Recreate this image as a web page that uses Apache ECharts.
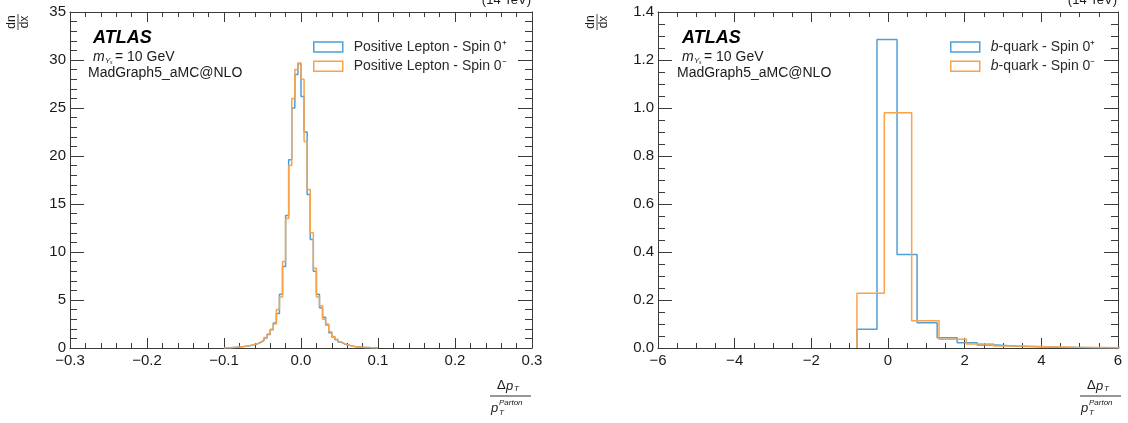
<!DOCTYPE html>
<html>
<head>
<meta charset="utf-8">
<script src="https://cdn.jsdelivr.net/npm/echarts@6.0.0/dist/echarts.min.js"></script>
<style>html,body{margin:0;padding:0;background:#fff;}#c{width:1128px;height:423px;}</style>
</head>
<body>
<div id="c"></div>
<script>
// ---------- DATA ----------
const lepNames = ['Positive Lepton - Spin 0\u207A', 'Positive Lepton - Spin 0\u207B'];
const bqNames = ['b-quark - Spin 0\u207A', 'b-quark - Spin 0\u207B'];

// Left panel: lepton histogram, uniform bins starting at lepBinLow
const lepBinLow = -0.1;
const lepBinWidth = 0.004;
const lepPlus = [0.02,0.03,0.05,0.07,0.1,0.13,0.17,0.22,0.28,0.35,0.45,0.6,0.8,1.05,1.4,1.9,2.6,3.6,5.6,8.5,
                 13.8,19.6,25.0,28.5,29.6,26.2,22.5,16.0,11.3,8.0,5.6,4.2,3.2,2.4,1.6,1.15,0.85,0.62,0.45,0.33,
                 0.25,0.18,0.13,0.1,0.07,0.05,0.04,0.03,0.02,0.01];
const lepMinus = [0.02,0.03,0.05,0.08,0.1,0.14,0.18,0.23,0.3,0.38,0.48,0.62,0.82,1.1,1.45,1.95,2.5,4.0,5.3,9.0,
                  13.5,19.0,26.0,29.0,29.7,28.0,21.5,16.5,12.0,8.3,5.3,4.4,3.0,2.5,1.7,1.2,0.9,0.65,0.48,0.35,
                  0.26,0.19,0.14,0.1,0.08,0.06,0.04,0.03,0.02,0.01];

// Right panel: b-quark histograms (different binning per sample)
const bqPlusLow = -0.81, bqPlusWidth = 0.523;
const bqPlus = [0.078,1.285,0.39,0.105,0.043,0.022,0.012,0.007,0.005,0.003,0.002,0.001,0.001];
const bqMinusLow = -0.81, bqMinusWidth = 0.714;
const bqMinus = [0.228,0.98,0.114,0.036,0.017,0.008,0.005,0.003,0.002,0.001];

// Axis ranges / ticks
const lepX = {min:-0.3, max:0.3, interval:0.1};
const lepY = {min:0, max:35, interval:5};
const bqX = {min:-6, max:6, interval:2};
const bqY = {min:0, max:1.4, interval:0.2};

// ---------- STYLE ----------
const BLUE = '#4f9fd9';
const ORANGE = '#f9a24a';
const AX = '#3a3a3a';
const TXT = '#1a1a1a';
const LEGTXT = '#2a2a2a';
const FONT = '"Liberation Sans", Arial, Helvetica, sans-serif';

function stepData(low, width, vals){
  const pts = [[low, 0]];
  vals.forEach((v,i)=>pts.push([low + i*width, v]));
  pts.push([low + vals.length*width, 0]);
  return pts;
}
function minusFmt(dec){
  return v => { const a = Math.abs(v); const s = dec>0 ? a.toFixed(dec) : String(Math.round(a*1000)/1000); return (v < -1e-9 ? '\u2212' : '') + s; };
}

function xAxes(r, grid, fmt, minor){
  const base = {type:'value', gridIndex:grid, min:r.min, max:r.max, interval:r.interval,
    splitLine:{show:false},
    axisLine:{show:true, onZero:false, lineStyle:{color:AX, width:1}},
    axisTick:{show:true, inside:true, length:10, lineStyle:{color:AX}},
    minorTick:{show:true, splitNumber:minor, length:5, lineStyle:{color:AX}},
    minorSplitLine:{show:false}};
  return [
    Object.assign({}, base, {position:'bottom', axisLabel:{show:true, formatter:fmt, margin:5, fontSize:15, color:TXT, fontFamily:FONT, showMinLabel:true, showMaxLabel:true}}),
    Object.assign({}, base, {position:'top', axisLabel:{show:false}})
  ];
}
function yAxes(r, grid, fmt, minor){
  const base = {type:'value', gridIndex:grid, min:r.min, max:r.max, interval:r.interval,
    splitLine:{show:false},
    axisLine:{show:true, onZero:false, lineStyle:{color:AX, width:1}},
    axisTick:{show:true, inside:true, length:14, lineStyle:{color:AX}},
    minorTick:{show:true, splitNumber:minor, length:7, lineStyle:{color:AX}},
    minorSplitLine:{show:false}};
  return [
    Object.assign({}, base, {position:'left', axisLabel:{show:true, formatter:fmt, margin:4, fontSize:15, color:TXT, fontFamily:FONT, showMinLabel:true, showMaxLabel:true}}),
    Object.assign({}, base, {position:'right', axisLabel:{show:false}})
  ];
}

function histSeries(name, data, color, xi, yi){
  return {type:'line', name:name, data:data, step:'end', symbol:'none', showSymbol:false,
    xAxisIndex:xi, yAxisIndex:yi, clip:true, animation:false,
    color: color, lineStyle:{color:color, width:1.5}, itemStyle:{color:color}, z:5};
}

// ---------- ANNOTATIONS ----------
function txt(x, y, text, size, opts){
  opts = opts || {};
  return {type:'text', x:x, y:y, z:20, silent:true,
    style:{text:text, fill:opts.fill||TXT, font:(opts.style||'')+' '+size+'px '+FONT,
      textAlign:opts.align||'left', textVerticalAlign:'middle'}};
}
function panelTexts(ox, tevRight, fracCx, yLabX){
  const g = [];
  g.push(txt(ox+5, 38, 'ATLAS', 18, {style:'italic bold', fill:'#000'}));
  g.push(txt(ox+5, 57, 'm', 14, {style:'italic'}));
  g.push(txt(ox+17, 61, 'Y', 8, {style:'italic'}));
  g.push(txt(ox+22, 63, 's', 5, {style:'italic'}));
  g.push(txt(ox+27, 57, '= 10 GeV', 14));
  g.push(txt(ox, 73, 'MadGraph5_aMC@NLO', 14));
  g.push(txt(tevRight, 0, '(14 TeV)', 13, {align:'right'}));
  // y title dn/dx, rotated fraction
  g.push({type:'group', x:yLabX, y:22, rotation:Math.PI/2, z:20, silent:true, children:[
    {type:'text', x:0, y:-6, style:{text:'dn', font:'12px '+FONT, fill:TXT, textAlign:'center', textVerticalAlign:'middle'}},
    {type:'line', shape:{x1:-8, y1:0, x2:8, y2:0}, style:{stroke:TXT, lineWidth:0.8}},
    {type:'text', x:0, y:7, style:{text:'dx', font:'12px '+FONT, fill:TXT, textAlign:'center', textVerticalAlign:'middle'}}
  ]});
  // x title  Δp_T / p_T^Parton
  const c = fracCx;
  g.push(txt(c-13, 385, '\u0394', 13));
  g.push(txt(c-4, 386, 'p', 13, {style:'italic'}));
  g.push(txt(c+4, 389, 'T', 8, {style:'italic'}));
  g.push({type:'line', z:20, silent:true, shape:{x1:c-20, y1:396, x2:c+21, y2:396}, style:{stroke:TXT, lineWidth:0.9}});
  g.push(txt(c-19, 408, 'p', 13, {style:'italic'}));
  g.push(txt(c-11, 413, 'T', 8, {style:'italic'}));
  g.push(txt(c-11, 403, 'Parton', 8, {style:'italic'}));
  return g;
}

// ---------- CHART ----------
const chart = echarts.init(document.getElementById('c'), null, {renderer:'canvas'});
function legItem(name, color){
  return {name:name, icon:'rect', itemStyle:{color:'rgba(255,255,255,0)', borderColor:color, borderWidth:1.5}};
}
const legendBase = {orient:'vertical', itemWidth:29, itemHeight:10, itemGap:3.3,
  selectedMode:false,
  textStyle:{fontSize:14, lineHeight:16, color:LEGTXT, fontFamily:FONT,
    rich:{p:{width:6}, i:{fontStyle:'italic', fontSize:14, fontFamily:FONT, color:LEGTXT}, n:{fontSize:14, fontFamily:FONT, color:LEGTXT}}}};

const option = {
  backgroundColor:'#fff',
  animation:false,
  grid:[
    {left:70, right:596, top:12, bottom:75, containLabel:false},
    {left:658, right:10, top:12, bottom:75, containLabel:false}
  ],
  xAxis:[].concat(xAxes(lepX, 0, minusFmt(1), 5), xAxes(bqX, 1, minusFmt(0), 4)),
  yAxis:[].concat(yAxes(lepY, 0, v=>String(v), 5), yAxes(bqY, 1, v=>v.toFixed(1), 4)),
  legend:[
    Object.assign({}, legendBase, {left:308, top:34, data:[legItem(lepNames[0], BLUE), legItem(lepNames[1], ORANGE)],
      formatter: n => '{p|}{n|' + n + '}'}),
    Object.assign({}, legendBase, {left:945, top:34, data:[legItem(bqNames[0], BLUE), legItem(bqNames[1], ORANGE)],
      formatter: n => '{p|}{i|b}{n|' + n.slice(1) + '}'})
  ],
  series:[
    histSeries(lepNames[0], stepData(lepBinLow, lepBinWidth, lepPlus), BLUE, 0, 0),
    histSeries(lepNames[1], stepData(lepBinLow, lepBinWidth, lepMinus), ORANGE, 0, 0),
    histSeries(bqNames[0], stepData(bqPlusLow, bqPlusWidth, bqPlus), BLUE, 2, 2),
    histSeries(bqNames[1], stepData(bqMinusLow, bqMinusWidth, bqMinus), ORANGE, 2, 2)
  ],
  graphic:[].concat(panelTexts(88, 531, 510, 18), panelTexts(677, 1117, 1100, 597))
};
chart.setOption(option);
</script>
</body>
</html>
